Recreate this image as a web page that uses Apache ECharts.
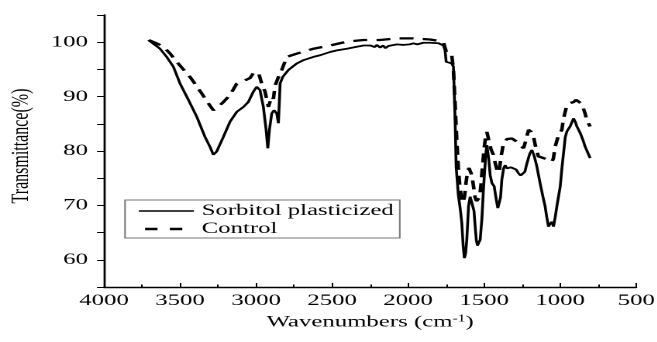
<!DOCTYPE html>
<html>
<head>
<meta charset="utf-8">
<title>FTIR spectra</title>
<script src="https://cdn.jsdelivr.net/npm/echarts@6/dist/echarts.min.js"></script>
<style>
  html, body { margin: 0; padding: 0; background: #fff; }
  #wrap { width: 657px; height: 342px; overflow: hidden; position: relative; }
  #chart { height: 342px; transform-origin: 0 0; }
</style>
</head>
<body>
<div id="wrap"><div id="chart"></div></div>
<script>
// Spectrum data: wavenumber (cm-1) and transmittance (%)
const sorbitolWn = [3708,3690,3660,3632,3588,3544,3500,3445,3390,3336,3300,3281,3259,3215,3171,3127,3083,3051,3018,2996,2974,2952,2934,2923,2912,2897,2882,2864,2853,2842,2825,2787,2732,2689,2623,2579,2513,2469,2403,2350,2294,2250,2220,2205,2184,2165,2150,2130,2110,2074,2030,1990,1965,1940,1900,1855,1800,1768,1757,1750,1735,1713,1702,1691,1684,1670,1658,1647,1638,1630,1622,1614,1603,1592,1583,1575,1567,1559,1551,1544,1535,1526,1515,1505,1489,1482,1470,1460,1449,1434,1420,1410,1401,1392,1384,1372,1362,1350,1340,1325,1307,1290,1274,1260,1245,1232,1219,1200,1186,1170,1153,1140,1132,1115,1099,1088,1077,1066,1055,1044,1033,1022,1010,1000,990,978,967,956,935,912,900,890,868,850,836,820,803];
const sorbitolT = [100.4,100.0,99.4,98.8,97.3,95.5,92.4,89.4,86.3,82.6,80.6,79.3,79.9,82.6,85.4,87.2,88.1,89.0,90.9,91.8,91.2,88.1,83.9,80.5,83.9,86.9,87.5,86.9,85.1,92.4,93.6,94.9,96.1,96.7,97.3,97.6,98.2,98.5,98.8,99.1,99.4,99.4,99.1,99.5,99.0,99.4,98.9,99.3,99.0,99.6,99.5,99.6,99.8,99.6,99.9,99.9,99.8,99.4,98.5,96.4,96.7,96.1,95.5,85.7,77.0,72.0,69.5,66.8,62.5,60.3,61.2,63.7,69.8,71.6,71.8,71.3,69.0,66.1,63.5,62.6,62.8,63.7,67.5,72.8,79.6,81.1,78.5,75.5,74.1,73.5,71.0,69.5,69.2,71.5,74.7,76.8,77.4,76.8,76.5,77.0,77.1,76.6,75.9,75.5,75.3,76.2,77.7,79.5,80.2,79.0,77.1,75.2,74.1,71.8,69.8,67.8,66.1,66.6,67.0,66.1,67.8,69.8,71.8,73.4,76.5,79.6,82.5,83.6,84.5,86.0,85.3,84.5,83.3,82.0,80.8,79.8,78.7];

const controlWn = [3705,3680,3640,3610,3565,3522,3478,3434,3395,3358,3320,3281,3250,3215,3171,3127,3072,3040,3018,2985,2963,2941,2919,2897,2886,2875,2853,2831,2798,2732,2623,2513,2403,2294,2184,2074,1965,1855,1790,1768,1746,1713,1702,1690,1680,1670,1660,1650,1640,1630,1620,1610,1600,1590,1580,1570,1560,1550,1540,1530,1520,1510,1500,1490,1482,1470,1455,1439,1425,1410,1400,1390,1373,1350,1318,1300,1285,1260,1241,1225,1208,1190,1175,1164,1143,1110,1080,1055,1045,1033,1011,989,978,956,935,912,895,880,865,847,835,825,803];
const controlT = [100.4,100.1,99.6,99.2,97.9,96.4,95.0,93.6,92.1,90.6,89.0,87.5,88.1,89.0,90.3,92.4,93.0,93.4,94.3,94.5,92.4,90.9,88.1,90.0,89.6,92.0,93.6,94.9,97.3,97.9,98.8,99.4,100.1,100.4,100.4,100.7,100.7,100.5,100.2,100.1,97.9,97.6,94.9,88.0,82.0,77.0,73.5,71.5,70.5,71.5,74.0,76.0,76.9,76.8,75.5,73.5,71.5,70.8,70.5,71.5,74.0,77.5,80.5,82.8,83.5,82.0,80.3,79.3,77.5,76.0,76.5,78.8,81.4,82.2,82.3,82.0,81.7,81.0,80.5,82.0,83.9,83.5,82.6,81.1,79.0,78.7,78.4,78.0,78.6,80.8,82.9,83.9,86.0,88.4,88.8,89.0,89.4,89.5,88.8,87.8,86.8,85.7,84.5];

const seriesNames = ['Sorbitol plasticized', 'Control'];
const xTicks = { min: 500, max: 4000, step: 500 };
const yTicks = { min: 55, max: 105, step: 5, labelStep: 10 };

// The figure is laid out narrow and widened horizontally, giving its wide-set lettering.
const S = 1.55;
const W = 657 / S;
const hx = v => v / S;

const el = document.getElementById('chart');
el.style.width = W + 'px';
el.style.transform = 'scaleX(' + S + ')';

const zip = (xs, ys) => xs.map((x, i) => [x, ys[i]]);
const FONT = "'Liberation Serif', 'Times New Roman', serif";

const chart = echarts.init(el, null, { renderer: 'canvas', devicePixelRatio: 2 });
chart.setOption({
  animation: false,
  backgroundColor: '#fff',
  grid: {
    left: hx(104), right: hx(21), top: 15, bottom: 55,
    containLabel: false,
    outerBoundsMode: 'none'
  },
  legend: {
    show: true,
    orient: 'vertical',
    left: hx(125),
    top: 200,
    padding: [3, hx(6), 1, hx(12)],
    itemWidth: hx(55),
    itemHeight: 12,
    itemGap: 2,
    borderColor: '#777',
    borderWidth: 1,
    itemStyle: { opacity: 0 },
    textStyle: { fontFamily: FONT, fontSize: 16, color: '#000' },
    data: [
      { name: seriesNames[0], lineStyle: { width: 1.5 } },
      { name: seriesNames[1], lineStyle: { width: 2.4, type: [8, 8], dashOffset: -4 } }
    ]
  },
  xAxis: {
    type: 'value',
    inverse: true,
    min: xTicks.min,
    max: xTicks.max,
    interval: xTicks.step,
    name: '{a|Wavenumbers (cm}{s|-1}{a|)}',
    nameLocation: 'middle',
    nameGap: 25,
    nameTextStyle: {
      rich: {
        a: { fontFamily: FONT, fontSize: 16, color: '#000' },
        s: { fontFamily: FONT, fontSize: 10, color: '#000', verticalAlign: 'top', padding: [0, 0, 7, 0] }
      }
    },
    axisLine: { onZero: false, lineStyle: { color: '#000', width: 1.4 } },
    axisTick: { inside: true, length: 4, lineStyle: { color: '#000', width: 1 } },
    minorTick: { show: true, splitNumber: 2, length: 2.5, lineStyle: { color: '#000', width: 1 } },
    axisLabel: { margin: 6, fontFamily: FONT, fontSize: 16, color: '#000', formatter: v => String(v) },
    splitLine: { show: false }
  },
  yAxis: {
    type: 'value',
    min: yTicks.min,
    max: yTicks.max,
    interval: yTicks.step,
    name: 'Transmittance(%)',
    nameLocation: 'middle',
    nameGap: 29,
    nameTextStyle: { fontFamily: FONT, fontSize: 16, color: '#000', padding: [0, 0, 0, 10] },
    axisLine: { show: true, onZero: false, lineStyle: { color: '#000', width: 1.4 } },
    axisTick: { show: true, inside: false, length: hx(7), lineStyle: { color: '#000', width: 1 } },
    axisLabel: {
      margin: hx(16),
      fontFamily: FONT, fontSize: 16, color: '#000',
      formatter: v => (v % yTicks.labelStep === 0 ? String(v) : '')
    },
    splitLine: { show: false }
  },
  series: [
    {
      name: seriesNames[0],
      type: 'line',
      data: zip(sorbitolWn, sorbitolT),
      symbol: 'none',
      lineStyle: { color: '#000', width: 1.8 },
      itemStyle: { color: '#000' },
      z: 3
    },
    {
      name: seriesNames[1],
      type: 'line',
      data: zip(controlWn, controlT),
      symbol: 'none',
      lineStyle: { color: '#000', width: 2.3, type: [9, 6] },
      itemStyle: { color: '#000' },
      z: 2
    }
  ]
});
</script>
</body>
</html>
